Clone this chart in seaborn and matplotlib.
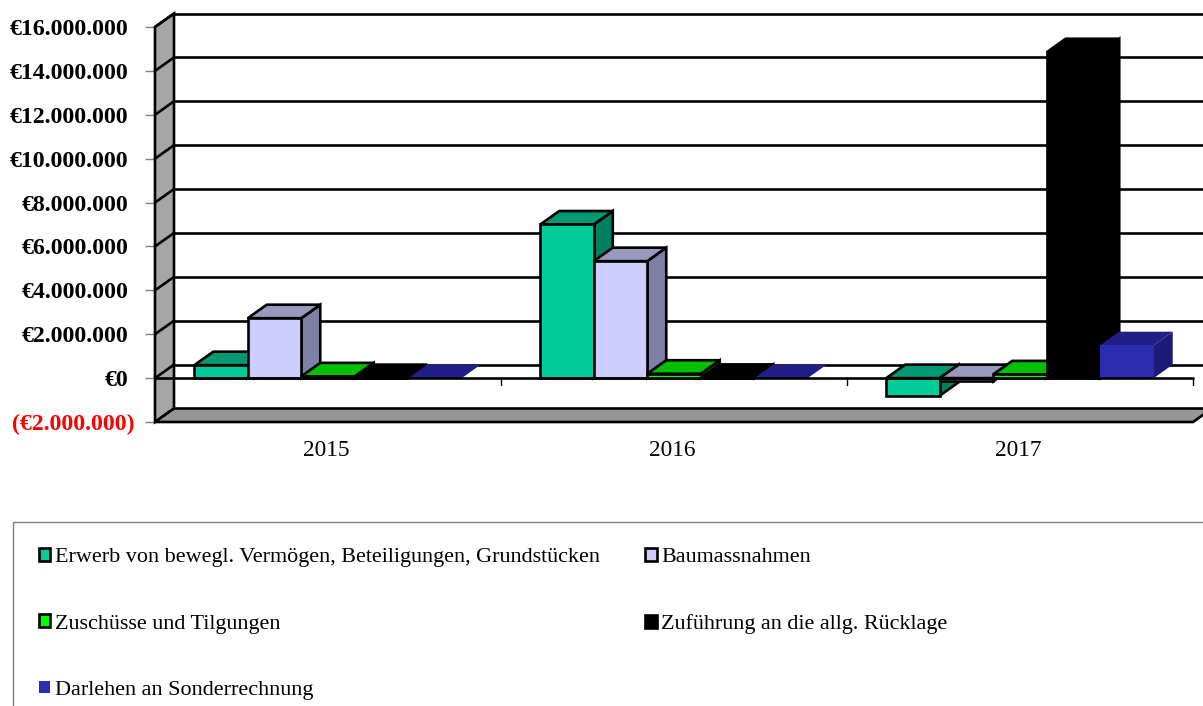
import matplotlib
matplotlib.use('Agg')
import matplotlib.pyplot as plt
import pandas as pd
import seaborn as sns
from matplotlib.patches import Polygon, Rectangle
from matplotlib.transforms import Affine2D

years = ['2015', '2016', '2017']
series = ['Erwerb von bewegl. Vermögen, Beteiligungen, Grundstücken',
          'Baumassnahmen',
          'Zuschüsse und Tilgungen',
          'Zuführung an die allg. Rücklage',
          'Darlehen an Sonderrechnung']
erwerb = [590000, 7000000, -800000]
bau = [2730000, 5330000, -150000]
zuschuss = [80000, 200000, 170000]
ruecklage = [0, 10000, 14850000]
darlehen = [0, 0, 1500000]
all_values = [erwerb, bau, zuschuss, ruecklage, darlehen]

tick_values = [-2000000, 0, 2000000, 4000000, 6000000, 8000000, 10000000, 12000000, 14000000, 16000000]
tick_labels = ['(€2.000.000)', '€0', '€2.000.000', '€4.000.000', '€6.000.000', '€8.000.000',
               '€10.000.000', '€12.000.000', '€14.000.000', '€16.000.000']

front_colors = ['#00cc99', '#ccccff', '#00ff00', '#000000', '#2c2cb0']
top_colors = ['#009973', '#9999bf', '#00c000', '#000000', '#1f1f87']
side_colors = ['#008060', '#8080a6', '#008000', '#000000', '#1c1c78']
edge_colors = ['black', 'black', 'black', 'black', 'none']

rows = []
for name, vals in zip(series, all_values):
    for y, v in zip(years, vals):
        rows.append({'year': y, 'series': name, 'value': v})
df = pd.DataFrame(rows)

sns.set_theme(style='white')
plt.rcParams['font.family'] = ['Liberation Serif', 'DejaVu Serif']
plt.rcParams['text.color'] = 'black'
plt.rcParams['xtick.labelcolor'] = 'black'
plt.rcParams['ytick.labelcolor'] = 'black'

W, H = 1203, 706
fig = plt.figure(figsize=(W / 100, H / 100), dpi=100)
ax = fig.add_axes([155 / W, (H - 422) / H, 1038 / W, 395 / H])

sns.barplot(data=df, x='year', y='value', hue='series', palette=dict(zip(series, front_colors)),
            width=0.773, gap=0, saturation=1, errorbar=None, legend=False, ax=ax)
ax.set_xlim(-0.5, 2.5)
ax.set_ylim(-2000000, 16000000)
ax.set_xlabel('')
ax.set_ylabel('')
sns.despine(ax=ax, left=True, bottom=True)
ax.patch.set_alpha(0)

# глибина псевдо-3D
dx = 19 / 346
dy = 13.5 / 21.95 * 1e6
lw = 1.9
x0, x1 = ax.get_xlim()
y0, y1 = ax.get_ylim()

# стінка і підлога
ax.add_patch(Polygon([(x0, y0), (x0 + dx, y0 + dy), (x0 + dx, y1 + dy), (x0, y1)], closed=True,
                     fc='#a6a6a6', ec='black', lw=lw, zorder=1, clip_on=False))
ax.add_patch(Polygon([(x0, y0), (x1, y0), (x1 + dx, y0 + dy), (x0 + dx, y0 + dy)], closed=True,
                     fc='#969696', ec='black', lw=lw, zorder=1, clip_on=False))

# сітка
for v in tick_values[1:]:
    ax.plot([x0 + dx, x1 + dx], [v + dy, v + dy], color='black', lw=lw, zorder=2, clip_on=False)
    ax.plot([x0, x0 + dx], [v, v + dy], color='black', lw=lw, zorder=2, clip_on=False)

# нульова лінія і засічки на ній
ax.plot([x0, x1], [0, 0], color='black', lw=lw, zorder=100, clip_on=False)
for b in [0.5, 1.5, 2.5]:
    ax.plot([b, b], [0, -300000], color='black', lw=1, zorder=100, clip_on=False)

# бари: верх, бік, перед
z = 10
for i, cont in enumerate(ax.containers):
    for bar in cont:
        bx0 = bar.get_x()
        bx1 = bx0 + bar.get_width()
        by0 = min(bar.get_y(), bar.get_y() + bar.get_height())
        by1 = max(bar.get_y(), bar.get_y() + bar.get_height())
        ec = edge_colors[i]
        ax.add_patch(Polygon([(bx1, by0), (bx1 + dx, by0 + dy), (bx1 + dx, by1 + dy), (bx1, by1)], closed=True,
                             fc=side_colors[i], ec=ec, lw=lw, zorder=z + i, clip_on=False))
        ax.add_patch(Polygon([(bx0, by1), (bx1, by1), (bx1 + dx, by1 + dy), (bx0 + dx, by1 + dy)], closed=True,
                             fc=top_colors[i], ec=ec, lw=lw, zorder=z + i, clip_on=False))
        bar.set_edgecolor(ec)
        bar.set_linewidth(lw)
        bar.set_zorder(z + i + 0.5)

ax.set_yticks(tick_values, tick_labels)
ax.tick_params(axis='y', left=True, length=7, width=1, color='#808080', pad=12, labelsize=17.2)
ax.tick_params(axis='x', bottom=False, pad=7, labelsize=16.8)
for lab, v in zip(ax.get_yticklabels(), tick_values):
    lab.set_fontweight('bold')
    if v < 0:
        lab.set_color('#ff0000')
        lab.set_transform(lab.get_transform() + Affine2D().translate(6, 0))
for lab in ax.get_xticklabels():
    lab.set_transform(lab.get_transform() + Affine2D().translate(-2, 0))

# легенда
fig.add_artist(Rectangle((12.5 / W, -0.1), 1.2, 0.1 + (H - 522) / H, transform=fig.transFigure,
                         fc='none', ec='#808080', lw=1))
handles = [c.patches[0] for c in ax.containers]
order = [0, 2, 4, 1, 3]
fig.legend([handles[i] for i in order], [series[i] for i in order], ncol=2, loc='upper left',
           bbox_to_anchor=(39 / W, (H - 548) / H), borderaxespad=0, borderpad=0, frameon=False,
           fontsize=15.9, handlelength=0.52, handleheight=0.52, handletextpad=0.2,
           labelspacing=2.13, columnspacing=2.06)

fig.savefig('out.png', dpi=100)
